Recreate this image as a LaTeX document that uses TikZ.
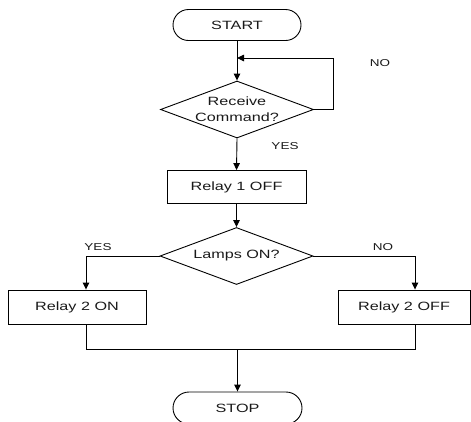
\documentclass[tikz,border=0pt]{standalone}
\usepackage{fontspec}
\setmainfont{Liberation Sans}[FakeStretch=1.35]
\usetikzlibrary{shapes.geometric,shapes.misc,arrows.meta}
\begin{document}
\begin{tikzpicture}[x=1pt,y=-1pt,
  every node/.style={font=\fontsize{12}{14}\selectfont, text=black!90},
  term/.style={draw, rounded rectangle, minimum width=128pt, minimum height=31pt, inner sep=0pt},
  proc/.style={draw, rectangle, minimum height=33pt, inner sep=0pt},
  dec/.style={draw, diamond, inner sep=0pt, minimum width=153pt, minimum height=57pt, align=center, font=\fontsize{12}{16}\selectfont},
  lbl/.style={font=\fontsize{10}{12}\selectfont},
  flow/.style={draw, line width=0.9pt, -{Triangle[length=7pt,width=6.5pt]}},
  plain/.style={draw, line width=0.9pt},
  line width=0.9pt]
\useasboundingbox (0,0) rectangle (471,421);
\clip (0,0) rectangle (471,421);
\node[term] (start) at (237,25) {START};
\node[dec, shape aspect=2.7] (d1) at (237,109.5) {Receive\\Command?};
\node[proc, minimum width=139pt] (r1) at (236.5,187) {Relay 1 OFF};
\node[dec, shape aspect=2.7] (d2) at (236.5,256) {Lamps ON?};
\node[proc, minimum width=138pt, minimum height=34pt] (r2on) at (77,307) {Relay 2 ON};
\node[proc, minimum width=132pt, minimum height=34pt] (r2off) at (404,307) {Relay 2 OFF};
\node[term, minimum width=129pt, minimum height=32pt] (stop) at (237.5,408) {STOP};
\coordinate (loopin) at (237,58);
\coordinate (loopc) at (333,58);
\coordinate (lj) at (86,349);
\coordinate (rj) at (415,349);
\coordinate (mj) at (237.5,349);
\node[lbl] (no1) at (380,63) {NO};
\node[lbl] (yes1) at (285,146) {YES};
\node[lbl] (yes2) at (98,247) {YES};
\node[lbl] (no2) at (383,247) {NO};
\path[flow] (start.south) -- (d1.north);
\path[plain] (d1.east) -| (loopc);
\path[flow] (loopc) -- (loopin);
\path[flow] (d1.south) -- (r1.north);
\path[flow] (r1.south) -- (d2.north);
\path[flow] (d2.west) -| (lj |- r2on.north);
\path[flow] (d2.east) -| (rj |- r2off.north);
\path[plain] (lj |- r2on.south) -- (lj) -- (rj) -- (rj |- r2off.south);
\path[flow] (mj) -- (stop.north);
\end{tikzpicture}
\end{document}
